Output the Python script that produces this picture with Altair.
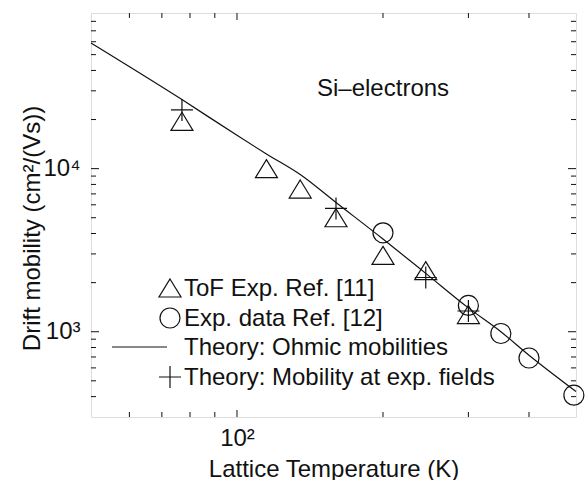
import altair as alt
import pandas as pd

# ---------------- data ----------------
line_T = [50, 77, 100, 115, 135, 160, 200, 245, 300, 350, 400, 500]
line_mu = [58900, 26500, 16000, 12300, 9200, 6200, 3700, 2280, 1400, 1000, 718, 430]

tof_T = [77, 115, 135, 160, 200, 245, 300]
tof_mu = [19500, 10000, 7500, 5000, 2940, 2370, 1275]

exp_T = [200, 300, 350, 400, 495]
exp_mu = [4040, 1450, 975, 690, 408]

fld_T = [77, 160, 245, 300]
fld_mu = [22900, 5700, 2150, 1340]

x_minor = [60, 70, 80, 90, 200, 300, 400]
x_major = [100]
y_minor = [400, 500, 600, 700, 800, 900,
           2000, 3000, 4000, 5000, 6000, 7000, 8000, 9000,
           20000, 30000, 40000, 50000, 60000, 70000, 80000]
y_major = [1000, 10000]

legend_labels = ["ToF Exp. Ref. [11]", "Exp. data Ref. [12]",
                 "Theory: Ohmic mobilities", "Theory: Mobility at exp. fields"]
panel_label = "Si\u2013electrons"
x_title = "Lattice Temperature (K)"
y_title = "Drift mobility (cm\u00b2/(Vs))"

# ---------------- layout ----------------
W, H = 485, 404
FONT = "Liberation Sans"
INK = "#111111"
SW = 1.2

xs = alt.Scale(type="log", domain=[50, 500], nice=False)
ys = alt.Scale(type="log", domain=[300, 90000], nice=False)

TRI = "M0,-0.82L1,0.82L-1,0.82Z"
PLUS = "M-1,0L1,0M0,-1L0,1"

x_axis = alt.Axis(values=[100], labelExpr="'10\u00b2'", ticks=False, tickSize=0,
                  domain=False, grid=False, labelFont=FONT, labelFontSize=24,
                  labelColor=INK, labelPadding=9, titleFont=FONT,
                  titleFontSize=24, titleFontWeight="normal", titleColor=INK,
                  titleX=W / 2, titleY=59, titleBaseline="alphabetic",
                  titleAlign="center")
y_axis = alt.Axis(values=[1000, 10000],
                  labelExpr="datum.value == 1000 ? '10\u00b3' : '10\u2074'",
                  ticks=False, tickSize=0, domain=False, grid=False,
                  labelFont=FONT, labelFontSize=24, labelColor=INK, labelPadding=11,
                  titleFont=FONT, titleFontSize=24,
                  titleFontWeight="normal", titleColor=INK, titleX=-52, titleY=215,
                  titleBaseline="alphabetic", titleAlign="center", titleAngle=270)

XE = alt.X("T:Q", scale=xs, axis=x_axis, title=x_title)
YE = alt.Y("mu:Q", scale=ys, axis=y_axis, title=y_title)

line_df = pd.DataFrame({"T": line_T, "mu": line_mu})
tof_df = pd.DataFrame({"T": tof_T, "mu": tof_mu})
exp_df = pd.DataFrame({"T": exp_T, "mu": exp_mu})
fld_df = pd.DataFrame({"T": fld_T, "mu": fld_mu})

line = alt.Chart(line_df).mark_line(color=INK, strokeWidth=SW, interpolate="monotone").encode(
    x=XE, y=YE)

def pts(df, shape, size):
    return alt.Chart(df).mark_point(shape=shape, size=size, filled=False, color=INK,
                                    strokeWidth=SW, opacity=1).encode(x=XE, y=YE)

tri = pts(tof_df, TRI, 484)
circ = pts(exp_df, "circle", 400)
plus = pts(fld_df, PLUS, 484)

# inner ticks on all four sides
def xticks(vals, length):
    d = pd.DataFrame({"T": vals})
    base = alt.Chart(d).mark_rule(color=INK, strokeWidth=1)
    bot = base.encode(x=XE, y=alt.value(H), y2=alt.value(H - length))
    top = base.encode(x=XE, y=alt.value(0), y2=alt.value(length))
    return bot + top

def yticks(vals, length):
    d = pd.DataFrame({"mu": vals})
    base = alt.Chart(d).mark_rule(color=INK, strokeWidth=1)
    lef = base.encode(y=YE, x=alt.value(0), x2=alt.value(length))
    rig = base.encode(y=YE, x=alt.value(W), x2=alt.value(W - length))
    return lef + rig

ticks = xticks(x_minor, 5) + xticks(x_major, 7) + yticks(y_minor, 5) + yticks(y_major, 8)

# manual legend
one = pd.DataFrame({"k": [0]})
leg_rows = [275, 305, 334, 364]
leg_sym_x = 79
leg_txt_x = 93

def leg_text(txt, y):
    return alt.Chart(one).mark_text(align="left", baseline="middle", font=FONT,
                                    fontSize=24, color=INK).encode(
        x=alt.value(leg_txt_x), y=alt.value(y), text=alt.value(txt))

def leg_sym(shape, size, y):
    return alt.Chart(one).mark_point(shape=shape, size=size, filled=False, color=INK,
                                     strokeWidth=SW, opacity=1).encode(
        x=alt.value(leg_sym_x), y=alt.value(y))

legend = (
    leg_sym(TRI, 484, leg_rows[0]) + leg_text(legend_labels[0], leg_rows[0] + 1)
    + leg_sym("circle", 400, leg_rows[1]) + leg_text(legend_labels[1], leg_rows[1] + 1)
    + alt.Chart(one).mark_rule(color=INK, strokeWidth=SW).encode(
        x=alt.value(21), x2=alt.value(76), y=alt.value(leg_rows[2]))
    + leg_text(legend_labels[2], leg_rows[2] + 1)
    + leg_sym(PLUS, 484, leg_rows[3]) + leg_text(legend_labels[3], leg_rows[3] + 1)
)

label = alt.Chart(one).mark_text(align="left", baseline="alphabetic", font=FONT,
                                 fontSize=24, color=INK).encode(
    x=alt.value(226), y=alt.value(83), text=alt.value(panel_label))

chart = alt.layer(line, tri, circ, plus, ticks, legend, label).properties(
    width=W, height=H,
    autosize=alt.AutoSizeParams(type="none"),
    padding={"left": 91, "top": 13, "right": 9, "bottom": 63},
).configure_view(stroke=INK, strokeWidth=SW).configure(background="white")

chart.save("out.html", embed_options={"renderer": "svg", "actions": False})
